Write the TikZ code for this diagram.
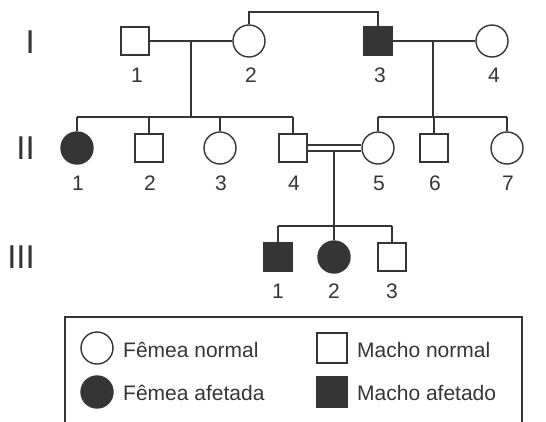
\documentclass[tikz,border=0pt]{standalone}
\usepackage{fontspec}
\setmainfont{Liberation Sans}
\definecolor{scuro}{HTML}{353535}

\tikzset{
  maschio/.style={draw=scuro, line width=1.4pt, fill=white, minimum size=28pt, inner sep=0pt},
  femmina/.style={draw=scuro, circle, line width=1.4pt, fill=white, minimum size=32pt, inner sep=0pt},
  affetto/.style={fill=scuro},
  numero/.style={font=\fontsize{21}{21}\selectfont, text=scuro, inner sep=0pt, anchor=base},
  generazione/.style={font=\fontsize{33}{33}\selectfont, text=scuro, inner sep=0pt, anchor=base east},
  legenda/.style={font=\fontsize{21}{21}\selectfont, text=scuro, inner sep=0pt, anchor=base west},
  linea/.style={draw=scuro, line width=1.4pt}
}

\begin{document}
\begin{tikzpicture}[x=1pt, y=-1pt]
    \useasboundingbox (0,0) rectangle (546,421);

    % Generazioni
    \node[generazione] (gI) at (35,53) {I};
    \node[generazione] (gII) at (35,159) {II};
    \node[generazione] (gIII) at (35,268) {III};

    % Prima generazione
    \node[maschio] (I1) at (135,41) {};
    \node[femmina] (I2) at (249,41) {};
    \node[maschio, affetto] (I3) at (378,41) {};
    \node[femmina] (I4) at (492,41) {};

    % Seconda generazione
    \node[femmina, affetto] (II1) at (77,148) {};
    \node[maschio] (II2) at (149,148) {};
    \node[femmina] (II3) at (220,148) {};
    \node[maschio] (II4) at (293,148) {};
    \node[femmina] (II5) at (378,148) {};
    \node[maschio] (II6) at (434,148) {};
    \node[femmina] (II7) at (507,148) {};

    % Terza generazione
    \node[maschio, affetto] (III1) at (278,257) {};
    \node[femmina, affetto] (III2) at (334,257) {};
    \node[maschio] (III3) at (392,257) {};

    % Numeri sotto i simboli
    \foreach \n/\t in {I1/1, I2/2, I3/3, I4/4}
        \node[numero] (n\n) at ([xshift=2pt]\n |- 0,82) {\t};
    \foreach \n/\t in {II1/1, II2/2, II3/3, II4/4, II5/5, II6/6, II7/7}
        \node[numero] (n\n) at ([xshift=1pt]\n |- 0,190) {\t};
    \foreach \n/\t in {III1/1, III2/2, III3/3}
        \node[numero] (n\n) at (\n |- 0,298) {\t};

    % Punti di discendenza
    \coordinate (m12) at (191,41);
    \coordinate (s12) at (191,117);
    \coordinate (m34) at (433,41);
    \coordinate (s34) at (433,117);
    \coordinate (m45) at (334,150);
    \coordinate (s45) at (334,226);
    \coordinate (fratelli) at (0,12);

    % Linea tra i fratelli I-2 e I-3
    \draw[linea] (I2.north) |- (I3.north |- fratelli) -- (I3.north);

    % Coppie della prima generazione
    \draw[linea] (I1) -- (I2);
    \draw[linea] (I3) -- (I4);
    \draw[linea] (m12) -- (s12);
    \draw[linea] (m34) -- (s34);

    % Fratellanze della seconda generazione
    \draw[linea] (II1 |- s12) -- (II4 |- s12);
    \foreach \n in {II1, II2, II3, II4}
        \draw[linea] (\n |- s12) -- (\n.north);
    \draw[linea] (II5 |- s34) -- (II7 |- s34);
    \foreach \n in {II5, II6, II7}
        \draw[linea] (\n |- s34) -- (\n.north);

    % Unione consanguinea
    \draw[linea] (m45) -- (s45);
    \draw[draw=scuro, line width=1.3pt, double=white, double distance=4.5pt] (II4) -- (II5);

    % Fratellanza della terza generazione
    \draw[linea] (III1 |- s45) -- (III3 |- s45);
    \foreach \n in {III1, III2, III3}
        \draw[linea] (\n |- s45) -- (\n.north);

    % Legenda
    \draw[draw=scuro, line width=1.2pt] (65,430) -- (65,317) -- (522,317) -- (522,430);
    \node[femmina] (lf1) at (97,348) {};
    \node[legenda] (tf1) at (123,357) {Fêmea normal};
    \node[femmina, affetto] (lf2) at (97,392) {};
    \node[legenda] (tf2) at (123,400) {Fêmea afetada};
    \node[maschio, minimum size=30pt] (lm1) at (332,348) {};
    \node[legenda] (tm1) at (357,357) {Macho normal};
    \node[maschio, affetto, minimum size=30pt] (lm2) at (332,392) {};
    \node[legenda] (tm2) at (357,400) {Macho afetado};
\end{tikzpicture}
\end{document}
